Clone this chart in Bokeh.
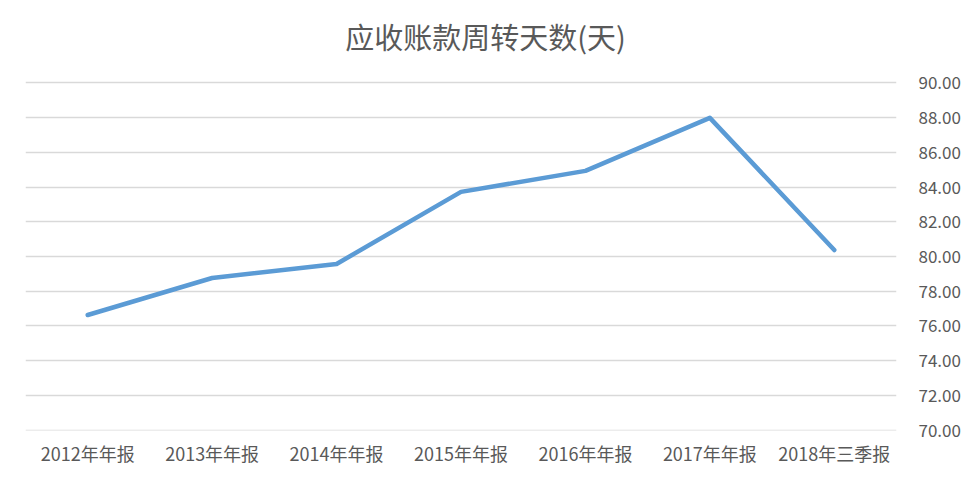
from bokeh.plotting import figure
from bokeh.models import FactorRange, Range1d, FixedTicker, NumeralTickFormatter, Label
from bokeh.embed import file_html
from bokeh.resources import INLINE

categories = ["2012年年报", "2013年年报", "2014年年报", "2015年年报", "2016年年报", "2017年年报", "2018年三季报"]
values = [76.63, 78.76, 79.57, 83.72, 84.93, 87.98, 80.37]
y_ticks = [70, 72, 74, 76, 78, 80, 82, 84, 86, 88, 90]
title_text = "应收账款周转天数(天)"

FONT = "Noto Sans CJK SC"
GRAY = "#595959"

# frame spans the full height above the x labels; the title sits in the empty band above 90
p = figure(
    x_range=FactorRange(*categories, range_padding=0),
    y_range=Range1d(69.98, 94.74),
    width=955, height=465,
    frame_width=871, frame_height=430,
    output_backend="svg", toolbar_location=None,
    y_axis_location="right",
    min_border_left=25, min_border_right=59, min_border_top=0, min_border_bottom=35,
)
p.line(x=categories, y=values, line_color="#5b9bd5", line_width=4.5, line_join="round", line_cap="round")

title = Label(
    x=3.697, y=92.72, x_units="data", y_units="data",
    text=title_text, text_align="center", text_baseline="middle",
    text_font=FONT, text_font_size="29px", text_color=GRAY,
)
p.add_layout(title)

p.outline_line_color = None
p.xgrid.grid_line_color = None
p.ygrid.grid_line_color = "#d9d9d9"
p.ygrid.grid_line_width = 1.3

ya = p.yaxis[0]
ya.ticker = FixedTicker(ticks=y_ticks)
ya.formatter = NumeralTickFormatter(format="0.00")
ya.axis_line_color = None
ya.major_tick_line_color = None
ya.minor_tick_line_color = None
ya.major_label_standoff = 16
ya.major_label_text_font = FONT
ya.major_label_text_font_size = "17px"
ya.major_label_text_color = GRAY

xa = p.xaxis[0]
xa.axis_line_color = None
xa.major_tick_line_color = None
xa.minor_tick_line_color = None
xa.major_label_standoff = 3
xa.major_label_text_font = FONT
xa.major_label_text_font_size = "18px"
xa.major_label_text_color = GRAY

p.background_fill_color = "white"
p.border_fill_color = "white"

open("out.html", "w").write(file_html(p, INLINE))
